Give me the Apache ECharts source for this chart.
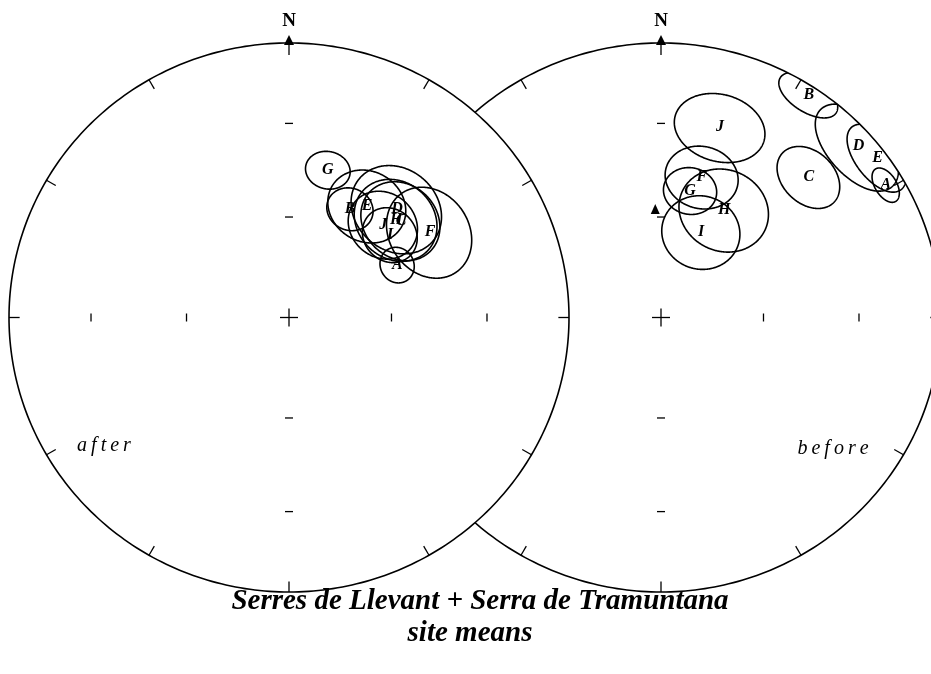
<!DOCTYPE html>
<html>
<head>
<meta charset="utf-8">
<script src="https://cdn.jsdelivr.net/npm/echarts@6/dist/echarts.min.js"></script>
<style>
  html, body { margin: 0; background: #fff; }
  #chart { width: 931px; height: 674px; }
</style>
</head>
<body>
<div id="chart"></div>
<script>
// site means after tilt correction (declination, inclination, alpha95, deg)
const afterSites = ['G', 'B', 'E', 'D', 'H', 'C', 'J', 'I', 'F', 'A'];
const afterDec = [14.5, 28.9, 34.5, 44.3, 47.1, 48.6, 44.9, 50.2, 58.3, 63.7];
const afterInc = [43.8, 52.8, 49.2, 44.0, 46.6, 45.7, 50.6, 51.2, 40.5, 54.5];
const afterA95 = [6.0, 6.5, 11.0, 13.0, 12.0, 11.5, 10.0, 8.0, 12.8, 5.1];

// site means before tilt correction
const beforeSites = ['J', 'F', 'G', 'H', 'I', 'C', 'B', 'D', 'E', 'A'];
const beforeDec = [16.9, 15.9, 12.7, 29.9, 24.7, 45.9, 33.0, 48.5, 53.0, 59.0];
const beforeInc = [28.3, 45.8, 50.9, 52.7, 62.0, 27.3, 3.5, 6.5, 3.5, 7.0];
const beforeA95 = [11.5, 9.9, 7.3, 12.6, 11.1, 8.9, 7.0, 11.5, 8.5, 4.2];

// reference direction (triangle, before plot only)
const refDec = [357];
const refInc = [57.8];

// net graduations
const incTicks = [60, 30];
const azTicks = [30, 60, 90, 120, 150, 180, 210, 240, 270, 300, 330];

const rad = d => d * Math.PI / 180;

// lower hemisphere equal-area, primitive = 1
function proj(dec, inc) {
  const r = Math.SQRT2 * Math.sin((Math.PI / 2 - rad(inc)) / 2);
  return [r * Math.sin(rad(dec)), r * Math.cos(rad(dec))];
}

function vecToXY(p) {
  const h = Math.hypot(p[0], p[1]) || 1;
  const r = Math.sqrt(Math.max(0, 1 - p[2]));
  return [r * p[1] / h, r * p[0] / h];
}

// small circle of radius a95 around (dec, inc), clipped at the primitive
function smallCircle(dec, inc, a95) {
  const D = rad(dec), I = rad(inc), A = rad(a95);
  const v = [Math.cos(I) * Math.cos(D), Math.cos(I) * Math.sin(D), Math.sin(I)];
  const u = [-Math.sin(D), Math.cos(D), 0];
  const w = [-Math.sin(I) * Math.cos(D), -Math.sin(I) * Math.sin(D), Math.cos(I)];
  const pts = [];
  let closed = true, prev = null;
  for (let k = 0; k <= 360; k++) {
    const t = -Math.PI / 2 + k * Math.PI / 180;
    const c = Math.cos(t), s = Math.sin(t);
    const p = [0, 1, 2].map(j => Math.cos(A) * v[j] + Math.sin(A) * (c * u[j] + s * w[j]));
    if (prev && (prev[2] < 0) !== (p[2] < 0)) {
      const f = prev[2] / (prev[2] - p[2]);
      const q = [0, 1, 2].map(j => prev[j] + f * (p[j] - prev[j]));
      q[2] = 0;
      pts.push(vecToXY(q));
    }
    if (p[2] < 0) closed = false;
    else pts.push(vecToXY(p));
    prev = p;
  }
  return { pts, closed };
}

function netRenderer(fill) {
  return function (params, api) {
    const ch = [];
    const line = (a, b) => ch.push({
      type: 'line', shape: { x1: a[0], y1: a[1], x2: b[0], y2: b[1] },
      style: { stroke: '#000', lineWidth: 1.3 }
    });
    const rim = [];
    for (let k = 0; k < 360; k += 1) rim.push(api.coord([Math.sin(rad(k)), Math.cos(rad(k))]));
    ch.push({ type: 'polygon', shape: { points: rim }, style: { fill: fill, stroke: '#000', lineWidth: 1.6 } });
    azTicks.forEach(az => {
      const s = Math.sin(rad(az)), c = Math.cos(rad(az));
      line(api.coord([s, c]), api.coord([0.962 * s, 0.962 * c]));
    });
    const o = api.coord([0, 0]);
    line([o[0] - 9, o[1]], [o[0] + 9, o[1]]);
    line([o[0], o[1] - 9], [o[0], o[1] + 9]);
    incTicks.forEach(inc => {
      const r = proj(0, inc)[1];
      [[r, 0], [-r, 0]].forEach(p => { const q = api.coord(p); line([q[0], q[1] - 4], [q[0], q[1] + 4]); });
      [[0, r], [0, -r]].forEach(p => { const q = api.coord(p); line([q[0] - 4, q[1]], [q[0] + 4, q[1]]); });
    });
    const n = api.coord([0, 1]);
    ch.push({ type: 'polygon', shape: { points: [[n[0], n[1] - 8], [n[0] - 5, n[1] + 2], [n[0] + 5, n[1] + 2]] },
      style: { fill: '#000' } });
    line([n[0], n[1]], [n[0], n[1] + 12]);
    ch.push({ type: 'text', x: n[0], y: n[1] - 22,
      style: { text: 'N', font: 'bold 19px "Liberation Serif"', fill: '#000', align: 'center', verticalAlign: 'middle' } });
    return { type: 'group', children: ch };
  };
}

function siteRenderer(names, dec, inc, a95) {
  return function (params, api) {
    const i = params.dataIndex;
    const sc = smallCircle(dec[i], inc[i], a95[i]);
    const pts = sc.pts.map(p => api.coord(p));
    const c = api.coord(proj(dec[i], inc[i]));
    return { type: 'group', children: [
      { type: sc.closed ? 'polygon' : 'polyline', shape: { points: pts },
        style: { stroke: '#000', fill: 'none', lineWidth: 1.6 } },
      { type: 'text', x: c[0], y: c[1],
        style: { text: names[i], font: 'italic bold 16px "Liberation Serif"', fill: '#000',
          align: 'center', verticalAlign: 'middle' } }
    ] };
  };
}

function refRenderer(params, api) {
  const c = api.coord(proj(refDec[params.dataIndex], refInc[params.dataIndex]));
  return { type: 'polygon', shape: { points: [[c[0], c[1] - 6], [c[0] - 4.5, c[1] + 4], [c[0] + 4.5, c[1] + 4]] },
    style: { fill: '#000' } };
}

const siteData = (dec, inc) => dec.map((d, i) => proj(d, inc[i]));

const axis = (gridIndex) => ({ gridIndex, type: 'value', min: -1, max: 1, show: false });

const chart = echarts.init(document.getElementById('chart'));
chart.setOption({
  animation: false,
  grid: [
    { left: 9, top: 43, width: 560, height: 549, outerBoundsMode: 'none', containLabel: false },
    { left: 381, top: 43, width: 560, height: 549, outerBoundsMode: 'none', containLabel: false }
  ],
  xAxis: [axis(0), axis(1)],
  yAxis: [axis(0), axis(1)],
  series: [
    { type: 'custom', xAxisIndex: 1, yAxisIndex: 1, z: 1, clip: false,
      data: [[0, 0]], renderItem: netRenderer('none') },
    { type: 'custom', xAxisIndex: 1, yAxisIndex: 1, z: 2, clip: false,
      data: siteData(beforeDec, beforeInc), renderItem: siteRenderer(beforeSites, beforeDec, beforeInc, beforeA95) },
    { type: 'custom', xAxisIndex: 1, yAxisIndex: 1, z: 2, clip: false,
      data: siteData(refDec, refInc), renderItem: refRenderer },
    { type: 'custom', xAxisIndex: 0, yAxisIndex: 0, z: 3, clip: false,
      data: [[0, 0]], renderItem: netRenderer('#fff') },
    { type: 'custom', xAxisIndex: 0, yAxisIndex: 0, z: 4, clip: false,
      data: siteData(afterDec, afterInc), renderItem: siteRenderer(afterSites, afterDec, afterInc, afterA95) }
  ],
  graphic: [
    { type: 'text', z: 10, style: { x: 104, y: 446, text: 'a\u2009f\u2009t\u2009e\u2009r',
      font: 'italic 20px "Liberation Serif"', fill: '#000', align: 'center', textAlign: 'center',
      verticalAlign: 'middle', textVerticalAlign: 'middle' } },
    { type: 'text', z: 10, style: { x: 833, y: 449, text: 'b\u2009e\u2009f\u2009o\u2009r\u2009e',
      font: 'italic 20px "Liberation Serif"', fill: '#000', align: 'center', textAlign: 'center',
      verticalAlign: 'middle', textVerticalAlign: 'middle' } },
    { type: 'text', z: 10, style: { x: 480, y: 602, text: 'Serres de Llevant + Serra de Tramuntana',
      font: 'italic bold 29px "Liberation Serif"', fill: '#000', align: 'center', textAlign: 'center',
      verticalAlign: 'middle', textVerticalAlign: 'middle' } },
    { type: 'text', z: 10, style: { x: 470, y: 634, text: 'site means',
      font: 'italic bold 29px "Liberation Serif"', fill: '#000', align: 'center', textAlign: 'center',
      verticalAlign: 'middle', textVerticalAlign: 'middle' } }
  ]
});
</script>
</body>
</html>
